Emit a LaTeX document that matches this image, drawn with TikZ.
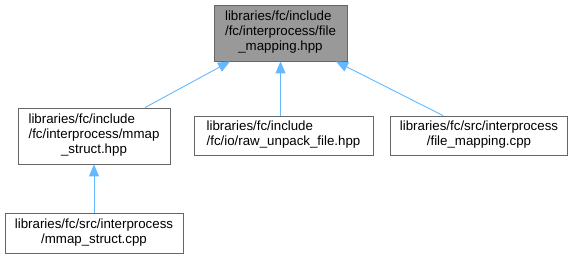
\documentclass[tikz,border=0pt]{standalone}
\usepackage{fontspec}
\setmainfont{Liberation Sans}
\usetikzlibrary{arrows.meta}
\definecolor{edgeblue}{HTML}{63B8FF}
\definecolor{boxline}{HTML}{666666}
\definecolor{curfill}{HTML}{999999}
\tikzset{
  filebox/.style={draw=boxline, line width=0.9pt, fill=white, inner sep=0pt,
    anchor=center, font=\fontsize{13.3}{15}\selectfont},
  curbox/.style={filebox, fill=curfill},
  dep/.style={draw=edgeblue, line width=0.9pt,
    -{Triangle[length=12pt, width=10pt, fill=edgeblue]}}
}
% left-justified lines, last line centred
\newcommand{\lbl}[2]{\begin{tabular}{@{}l@{}}#1\\\multicolumn{1}{@{}c@{}}{#2}\end{tabular}}
\newcommand{\lblthree}[3]{\begin{tabular}{@{}l@{}}#1\\#2\\\multicolumn{1}{@{}c@{}}{#3}\end{tabular}}
\begin{document}
\begin{tikzpicture}[x=1pt, y=-1pt]
\useasboundingbox (0,0) rectangle (576,259);
\node[curbox, minimum width=133pt, minimum height=56pt] (top) at (280.5,33)
  {\lblthree{libraries/fc/include}{/fc/interprocess/file}{\_mapping.hpp}};
\node[filebox, minimum width=152pt, minimum height=56pt] (hpp) at (94,136)
  {\lblthree{libraries/fc/include}{/fc/interprocess/mmap}{\_struct.hpp}};
\node[filebox, minimum width=179pt, minimum height=39pt] (raw) at (283.5,135.5)
  {\lbl{libraries/fc/include}{/fc/io/raw\_unpack\_file.hpp}};
\node[filebox, minimum width=177pt, minimum height=39pt] (fmc) at (479,135.5)
  {\lbl{libraries/fc/src/interprocess}{/file\_mapping.cpp}};
\node[filebox, minimum width=178pt, minimum height=40pt] (mmc) at (94,233)
  {\lbl{libraries/fc/src/interprocess}{/mmap\_struct.cpp}};

\draw[dep] ([xshift=51pt]hpp.north) -- ([xshift=-50.5pt]top.south);
\draw[dep] (top.south |- raw.north) -- (top.south);
\draw[dep] ([xshift=-36pt]fmc.north) -- ([xshift=55.5pt]top.south);
\draw[dep] (mmc.north) -- (hpp.south);
\end{tikzpicture}
\end{document}
